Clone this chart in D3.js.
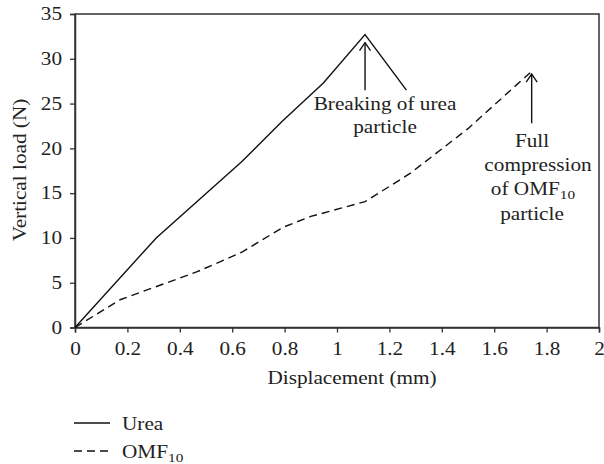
<!DOCTYPE html>
<html>
<head>
<meta charset="utf-8">
<script src="https://cdn.jsdelivr.net/npm/d3@7"></script>
<style>
  body { margin: 0; background: #fff; }
  svg { font-family: "Liberation Serif", serif; }
</style>
</head>
<body>
<svg id="plot" width="604" height="464"></svg>
<script>
// data
const ureaX = [0, 0.31, 0.636, 0.79, 0.948, 1.107, 1.265];
const ureaY = [0, 10.0, 18.5, 23.0, 27.3, 32.7, 26.5];
const omfX = [0, 0.172, 0.464, 0.636, 0.795, 0.9, 1.107, 1.279, 1.5, 1.737];
const omfY = [0, 3.1, 6.2, 8.4, 11.2, 12.4, 14.05, 17.2, 22.2, 28.45];
const xTicks = [0, 0.2, 0.4, 0.6, 0.8, 1, 1.2, 1.4, 1.6, 1.8, 2];
const yTicks = [0, 5, 10, 15, 20, 25, 30, 35];
const arrowX = [1.107, 1.743];
const arrowFrom = [26.5, 22.8];
const arrowTo = [31.8, 28.3];

const svg = d3.select('#plot');
const mLeft = 75, mRight = 599, mTop = 14, mBottom = 327.5;
const fs = 18;
const sx = 1.18; // the reference type is set wide
const ink = '#222';

const x = d3.scaleLinear().domain([0, 2]).range([mLeft, mRight]);
const y = d3.scaleLinear().domain([0, 35]).range([mBottom, mTop]);

// frame
svg.append('rect')
  .attr('x', mLeft).attr('y', mTop)
  .attr('width', mRight - mLeft).attr('height', mBottom - mTop)
  .attr('fill', 'none').attr('stroke', '#333').attr('stroke-width', 1.5);

const xAxis = svg.append('g')
  .attr('transform', 'translate(0,' + mBottom + ')')
  .call(d3.axisBottom(x).tickValues(xTicks).tickSize(5).tickPadding(10)
        .tickFormat(d => String(d)));
const yAxis = svg.append('g')
  .attr('transform', 'translate(' + mLeft + ',0)')
  .call(d3.axisLeft(y).tickValues(yTicks).tickSize(5).tickPadding(8));

[xAxis, yAxis].forEach(a => {
  a.select('.domain').attr('stroke', '#333').attr('stroke-width', 1.5);
  a.selectAll('.tick line').attr('stroke', '#333').attr('stroke-width', 1.3);
  a.selectAll('.tick text')
    .attr('font-family', '"Liberation Serif", serif')
    .attr('font-size', fs).attr('fill', ink)
    .attr('transform', 'scale(' + sx + ',1)');
});
yAxis.selectAll('.tick text').attr('x', -13 / sx);

const line = d3.line().x(d => x(d[0])).y(d => y(d[1]));

svg.append('path')
  .attr('d', line(d3.zip(ureaX, ureaY)))
  .attr('fill', 'none').attr('stroke', '#111').attr('stroke-width', 1.4);

svg.append('path')
  .attr('d', line(d3.zip(omfX, omfY)))
  .attr('fill', 'none').attr('stroke', '#111').attr('stroke-width', 1.4)
  .attr('stroke-dasharray', '8,5');

// arrows
arrowX.forEach((ax, i) => {
  svg.append('line')
    .attr('x1', x(ax)).attr('x2', x(ax))
    .attr('y1', y(arrowFrom[i])).attr('y2', y(arrowTo[i]))
    .attr('stroke', '#111').attr('stroke-width', 1.4);
  svg.append('path')
    .attr('d', 'M' + (x(ax) - 5.5) + ',' + (y(arrowTo[i]) + 8) + 'L' + x(ax) + ',' + y(arrowTo[i]) +
               'L' + (x(ax) + 5.5) + ',' + (y(arrowTo[i]) + 8))
    .attr('fill', 'none').attr('stroke', '#111').attr('stroke-width', 1.3);
});

// text helper: wide serif
function label(px, py, str, anchor) {
  const g = svg.append('g').attr('transform', 'translate(' + px + ',' + py + ') scale(' + sx + ',1)');
  const t = g.append('text').attr('font-size', fs).attr('fill', ink)
    .attr('text-anchor', anchor || 'middle');
  return t.text(str);
}

label(385, 110, 'Breaking of urea');
label(385, 133, 'particle');
label(532, 147, 'Full');
label(538, 171, 'compression');
const omfLbl = label(533, 195, 'of OMF');
omfLbl.append('tspan').attr('font-size', 13).attr('dy', 4).text('10');
label(532, 220, 'particle');

label(352, 384, 'Displacement (mm)');

svg.append('g').attr('transform', 'translate(26,170) rotate(-90) scale(' + sx + ',1)')
  .append('text').attr('font-size', fs).attr('fill', ink)
  .attr('text-anchor', 'middle').text('Vertical load (N)');

// legend
svg.append('line').attr('x1', 74).attr('x2', 110).attr('y1', 423).attr('y2', 423)
  .attr('stroke', '#111').attr('stroke-width', 1.4);
svg.append('line').attr('x1', 74).attr('x2', 110).attr('y1', 451).attr('y2', 451)
  .attr('stroke', '#111').attr('stroke-width', 1.4).attr('stroke-dasharray', '8,5');
label(122, 430, 'Urea', 'start');
const lg = label(122, 458, 'OMF', 'start');
lg.append('tspan').attr('font-size', 13).attr('dy', 4).text('10');
</script>
</body>
</html>
